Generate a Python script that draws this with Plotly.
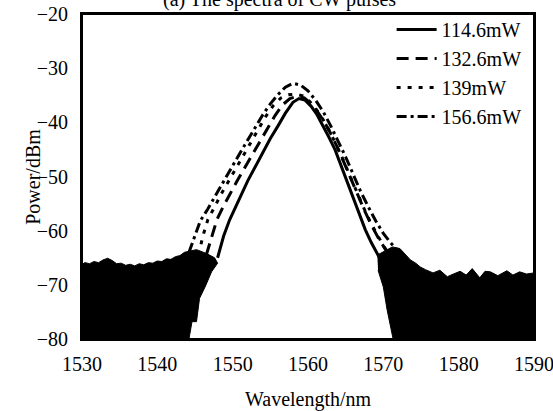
import plotly.graph_objects as go

# ---- data ----
series_names = ["114.6mW", "132.6mW", "139mW", "156.6mW"]

x_1146 = [1548.0, 1548.8, 1549.6, 1550.4, 1551.2, 1552.0, 1553.0, 1554.0, 1555.0, 1556.0, 1557.0, 1558.0, 1558.8,
          1559.6, 1560.4, 1561.2, 1562.0, 1562.8, 1563.6, 1564.4, 1565.2, 1566.0, 1566.8, 1567.6, 1568.4, 1569.2, 1569.8]
y_1146 = [-65.0, -61.0, -58.0, -55.5, -53.0, -50.8, -48.2, -45.6, -43.0, -40.7, -38.3, -36.3, -35.6,
          -35.9, -37.0, -38.6, -40.6, -42.8, -45.1, -48.0, -51.0, -54.0, -57.0, -59.8, -62.2, -64.3, -65.8]

x_1326 = [1546.5, 1547.2, 1547.9, 1548.8, 1549.7, 1550.6, 1551.6, 1552.6, 1553.6, 1554.6, 1555.6, 1556.6, 1557.6, 1558.6,
          1559.5, 1560.4, 1561.3, 1562.2, 1563.1, 1564.0, 1564.9, 1565.8, 1566.7, 1567.6, 1568.5, 1569.4, 1570.3, 1571.0]
y_1326 = [-64.5, -61.0, -58.0, -55.4, -53.0, -50.8, -48.4, -46.0, -43.5, -41.0, -38.8, -36.8, -35.6, -35.2,
          -35.5, -36.5, -38.1, -40.0, -42.3, -44.9, -47.8, -50.8, -53.8, -56.6, -59.2, -61.5, -63.5, -65.2]

x_139 = [1545.5, 1546.0, 1546.7, 1547.6, 1548.5, 1549.4, 1550.4, 1551.4, 1552.4, 1553.4, 1554.4, 1555.4, 1556.4, 1557.4,
         1558.4, 1559.3, 1560.2, 1561.1, 1562.0, 1562.9, 1563.8, 1564.7, 1565.6, 1566.5, 1567.4, 1568.3, 1569.2, 1570.1,
         1571.0, 1571.8]
y_139 = [-64.5, -61.2, -58.0, -55.5, -53.2, -51.0, -48.6, -46.2, -43.7, -41.2, -38.9, -36.9, -35.5, -34.9,
         -34.8, -35.1, -36.1, -37.6, -39.5, -41.7, -44.2, -47.0, -50.0, -53.0, -55.8, -58.5, -60.9, -63.0,
         -64.7, -66.0]

x_1566 = [1544.2, 1545.0, 1545.7, 1546.7, 1547.5, 1548.3, 1549.1, 1550.0, 1551.0, 1552.0, 1553.0, 1554.0, 1555.0,
          1556.0, 1557.0, 1558.0, 1559.0, 1560.0, 1561.0, 1562.0, 1563.0, 1564.0, 1565.0, 1566.0, 1567.0, 1568.0,
          1569.0, 1570.0, 1571.0, 1572.0, 1573.0]
y_1566 = [-64.0, -61.0, -58.2, -56.0, -54.0, -52.0, -50.0, -48.0, -45.6, -43.2, -40.8, -38.6, -36.6,
          -34.9, -33.5, -32.8, -33.1, -34.2, -35.9, -38.0, -40.6, -43.4, -46.4, -49.6, -52.8, -55.6,
          -58.2, -60.5, -62.3, -63.8, -65.2]

# noise floor outlines (dense noise appears as solid black)
noise_left_x = [1530.0, 1530.4, 1531.0, 1531.6, 1532.2, 1532.8, 1533.4, 1534.0, 1534.6, 1535.2, 1535.8, 1536.4,
                1537.0, 1537.6, 1538.2, 1538.8, 1539.4, 1540.0, 1540.6, 1541.2, 1541.8, 1542.4, 1543.0, 1543.6,
                1544.2, 1545.2, 1546.5, 1547.6, 1548.0, 1547.2, 1546.4, 1545.6, 1545.2, 1544.6, 1544.2, 1530.0]
noise_left_y = [-66.2, -65.9, -66.1, -65.7, -65.9, -65.4, -65.1, -65.5, -66.1, -66.0, -66.4, -66.2,
                -66.5, -66.1, -66.3, -65.9, -66.0, -65.6, -65.7, -65.2, -65.3, -64.8, -64.6, -64.0,
                -63.8, -63.5, -64.2, -65.0, -66.0, -67.6, -70.2, -72.5, -76.8, -76.8, -80.0, -80.0]

noise_right_x = [1569.2, 1570.2, 1571.2, 1572.2, 1573.0, 1573.6, 1574.3, 1574.9, 1575.6, 1576.6, 1577.5, 1578.5,
                 1579.3, 1580.2, 1581.0, 1581.8, 1582.8, 1583.5, 1584.2, 1585.2, 1586.4, 1587.2, 1588.1, 1589.0,
                 1590.0, 1590.0, 1571.3, 1570.5, 1570.0, 1569.3]
noise_right_y = [-64.5, -63.8, -63.0, -63.3, -64.6, -65.4, -66.0, -66.7, -67.2, -67.8, -67.3, -68.5,
                 -68.0, -67.5, -68.2, -67.0, -68.7, -67.5, -67.6, -68.3, -67.4, -68.2, -67.6, -68.0,
                 -67.8, -80.0, -80.0, -74.6, -70.4, -67.3]

x_ticks = [1530, 1540, 1550, 1560, 1570, 1580, 1590]
y_ticks = [-80, -70, -60, -50, -40, -30, -20]

FONT = "Liberation Serif"

fig = go.Figure()
for nx, ny in [(noise_left_x, noise_left_y), (noise_right_x, noise_right_y)]:
    fig.add_trace(go.Scatter(x=nx, y=ny, mode="lines", fill="toself", fillcolor="black",
                             line=dict(color="black", width=1), showlegend=False, hoverinfo="skip"))

styles = ["solid", "12px,7px", "4px,7px", "10px,4px,3px,4px"]
for name, xs, ys, dash in zip(series_names, [x_1146, x_1326, x_139, x_1566],
                              [y_1146, y_1326, y_139, y_1566], styles):
    fig.add_trace(go.Scatter(x=xs, y=ys, mode="lines", name=name,
                             line=dict(color="black", width=3, dash=dash)))

fig.update_layout(
    template="none",
    width=553, height=411,
    margin=dict(l=82, r=19, t=14, b=72, autoexpand=False),
    paper_bgcolor="white", plot_bgcolor="white",
    font=dict(family=FONT, size=20, color="black"),
    showlegend=True,
    legend=dict(x=0.685, y=1.012, xanchor="left", yanchor="top", bgcolor="rgba(0,0,0,0)",
                borderwidth=0, itemwidth=40,
                font=dict(family=FONT, size=20, color="black"), tracegroupgap=0),
    xaxis=dict(range=[1530, 1590], tickvals=x_ticks, ticks="", showgrid=False, zeroline=False,
               showline=True, linecolor="black", linewidth=2, mirror=True, automargin=False,
               ticklabeloverflow="allow",
               tickfont=dict(family=FONT, size=20), ticklabelstandoff=6),
    yaxis=dict(range=[-80, -20], tickvals=y_ticks, ticks="", showgrid=False, zeroline=False,
               showline=True, linecolor="black", linewidth=2, mirror=True, automargin=False,
               ticklabeloverflow="allow",
               tickfont=dict(family=FONT, size=20), ticklabelstandoff=8),
    shapes=[dict(type="rect", xref="paper", yref="paper", x0=0, y0=0, x1=1, y1=1,
                 line=dict(color="black", width=2), fillcolor="rgba(0,0,0,0)", layer="above")],
    annotations=[
        dict(text="(a) The spectra of CW pulses", x=0.438, y=1.003, xref="paper", yref="paper",
             xanchor="center", yanchor="bottom", showarrow=False, font=dict(family=FONT, size=20)),
        dict(text="Wavelength/nm", x=0.5, y=-0.185, xref="paper", yref="paper",
             xanchor="center", yanchor="middle", showarrow=False, font=dict(family=FONT, size=20)),
        dict(text="Power/dBm", x=-0.11, y=0.5, xref="paper", yref="paper", textangle=-90,
             xanchor="center", yanchor="middle", showarrow=False, font=dict(family=FONT, size=20)),
    ],
)

fig.write_html("out.html")
